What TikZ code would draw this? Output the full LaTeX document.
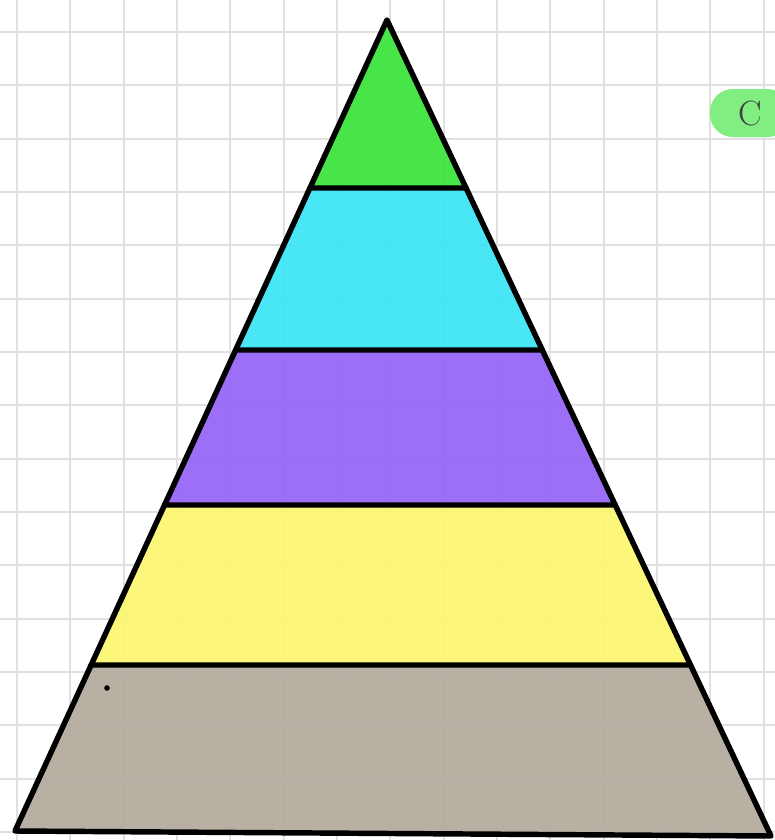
\documentclass[tikz,border=0pt]{standalone}
\usepackage{xcolor}
\usetikzlibrary{calc, math}
\definecolor{lvlgreen}{RGB}{58,228,58}
\definecolor{lvlcyan}{RGB}{60,230,246}
\definecolor{lvlpurple}{RGB}{150,100,246}
\definecolor{lvlyellow}{RGB}{252,246,112}
\definecolor{lvlbrown}{RGB}{180,170,158}
\definecolor{pillgreen}{RGB}{128,238,128}
\definecolor{gridgray}{RGB}{224,224,224}
\tikzset{
 gridline/.style={line width=1.1pt, color=gridgray},
 outline/.style={line width=3.1pt, line join=round, line cap=round},
 pill/.style={fill=pillgreen, rounded corners=13pt, minimum width=80*0.02cm, minimum height=48*0.02cm, inner sep=0pt, text=black!75, font=\fontsize{20}{24}\selectfont},
}

\begin{document}
\begin{tikzpicture}[x=0.02cm,y=-0.02cm]
\tikzmath{
\picW=775;
\picH=840;
\gap=53.33;
}
\clip (0,0) rectangle (\picW,\picH);
\fill[white] (0,0) rectangle (\picW,\picH);

 %grid:
 \foreach \i in {0,...,14} {
  \draw[gridline] ({17+\i*\gap},0) -- ({17+\i*\gap},\picH);
 }
 \foreach \i in {0,...,15} {
  \draw[gridline] (0,{32+\i*\gap}) -- (\picW,{32+\i*\gap});
 }

 \coordinate (A) at (387,20);
 \coordinate (BL) at (15,831);
 \coordinate (BR) at (771,836);

 %bands (top/bottom y of each level):
 \foreach \a/\b/\c in {20/188/lvlgreen, 188/350/lvlcyan, 350/505/lvlpurple, 505/665/lvlyellow, 665/836/lvlbrown} {
  \fill[\c, fill opacity=0.93] ($(A)!{(\a-20)/811}!(BL)$) -- ($(A)!{min(\b-20,811)/811}!(BL)$) -- ($(A)!{(\b-20)/816}!(BR)$) -- ($(A)!{(\a-20)/816}!(BR)$) -- cycle;
 }

 %outline:
 \draw[outline] (A) -- (BL) -- (BR) -- cycle;
 \foreach \b in {188, 350, 505, 665} {
  \draw[outline] ($(A)!{(\b-20)/811}!(BL)$) -- ($(A)!{(\b-20)/816}!(BR)$);
 }

 \fill (107,688) circle (1.6pt);

 \node[pill] (tag) at (750,113) {C};
\end{tikzpicture}
\end{document}
